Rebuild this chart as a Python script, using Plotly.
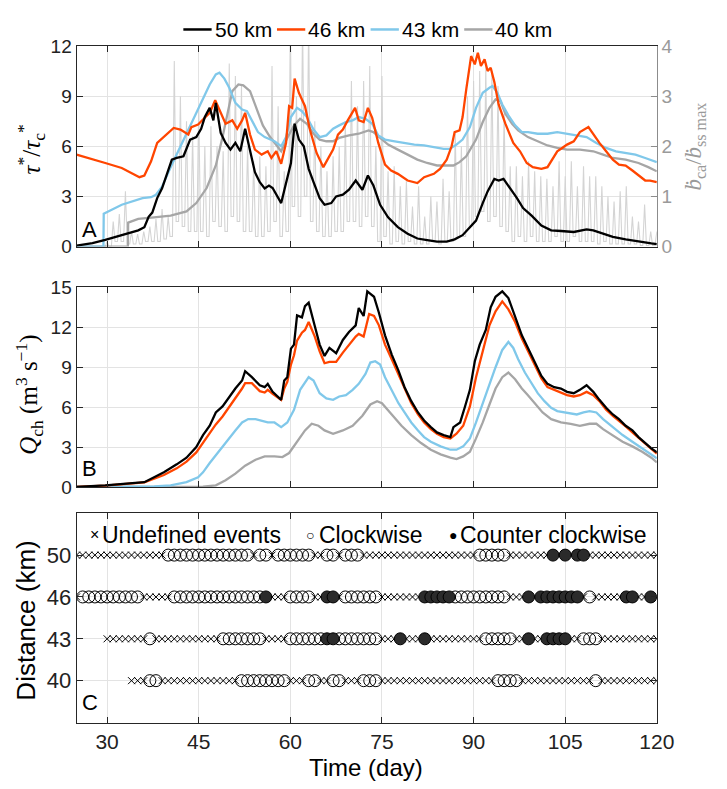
import plotly.graph_objects as go

W, H = 727, 789
SANS = "Liberation Sans, Arial, sans-serif"
SERIF = "Liberation Serif, DejaVu Serif, serif"

# ---------------- data ----------------
x_ticks = [30, 45, 60, 75, 90, 105, 120]
series_labels = ["50 km", "46 km", "43 km", "40 km"]
series_colors = ["#000000", "#ff4500", "#80c8ea", "#a6a6a6"]

# Panel A: tau*/tau_c* (day, value)
tau_50 = [(25,0.05),(27.6,0.2),(29.7,0.4),(32.4,0.68),(35.1,0.97),(36.1,1.16),(36.8,1.78),(37.4,2.03),(38.2,2.9),(39.0,3.48),(39.8,4.35),(40.6,5.2),(41.4,5.3),(42.5,5.4),(43.6,6.4),(44.6,6.55),(45.4,7.05),(46.0,7.75),(46.8,8.3),(47.4,7.55),(47.8,8.6),(48.6,6.8),(49.4,6.2),(50.2,5.8),(51.0,6.2),(51.8,5.7),(52.6,7.05),(53.4,5.8),(54.2,4.45),(55.0,3.85),(55.8,3.48),(56.5,3.65),(57.1,3.5),(58.5,2.6),(59.3,3.85),(60.1,5.0),(60.7,7.35),(61.4,6.4),(62.2,6.0),(63.0,4.65),(63.8,3.85),(64.8,2.9),(65.6,2.5),(66.7,2.6),(67.5,3.0),(68.6,3.1),(69.6,3.4),(70.7,3.95),(71.8,3.4),(72.7,4.25),(73.6,3.65),(74.7,2.5),(76.0,1.75),(77.6,1.16),(79.2,0.77),(80.8,0.48),(82.4,0.39),(84.0,0.29),(85.6,0.29),(86.9,0.43),(88.2,0.68),(89.4,1.16),(90.4,1.55),(91.5,2.6),(92.3,3.3),(93.4,4.05),(94.1,3.95),(94.9,4.05),(96.0,3.48),(97.1,2.9),(98.1,2.3),(99.5,1.85),(101.1,1.26),(102.7,0.97),(104.3,0.93),(106.4,0.87),(108.5,1.03),(109.6,0.97),(111.2,0.77),(112.8,0.58),(114.9,0.43),(117.0,0.29),(119.1,0.19),(120,0.15)]
tau_46 = [(25,5.5),(27.6,5.2),(29.7,5.0),(32.4,4.7),(35.3,4.15),(36.1,4.25),(37.2,5.1),(38.2,6.2),(39.8,6.7),(40.9,7.1),(42.0,7.0),(43.3,6.7),(43.8,7.15),(44.9,7.3),(45.7,7.6),(46.8,8.0),(47.7,8.75),(48.4,8.2),(49.4,7.35),(50.5,7.55),(51.3,7.05),(52.1,7.55),(52.6,8.0),(53.4,6.7),(54.2,5.8),(55.3,5.5),(56.3,5.7),(56.9,5.3),(57.7,5.7),(58.5,4.95),(59.3,6.2),(59.8,8.4),(60.3,8.3),(60.7,10.05),(61.4,9.2),(61.9,8.8),(62.4,8.4),(63.2,7.0),(64.3,5.6),(65.4,4.75),(66.2,5.3),(67.0,5.8),(67.8,6.7),(68.6,7.0),(69.4,7.55),(70.6,8.3),(71.2,7.55),(72.0,7.45),(72.7,8.3),(73.4,7.7),(74.4,6.2),(75.5,4.9),(76.5,4.55),(77.6,4.35),(79.2,3.95),(80.8,3.8),(81.9,4.15),(83.5,4.35),(84.5,4.65),(85.6,5.2),(86.4,6.0),(86.9,6.85),(87.7,6.95),(88.2,7.75),(88.8,9.4),(89.6,11.4),(90.2,10.9),(90.7,11.6),(91.2,10.8),(91.8,11.2),(92.3,10.5),(92.8,10.7),(93.4,9.85),(94.1,8.5),(95.2,7.35),(96.5,6.2),(97.6,5.7),(98.7,5.0),(99.7,4.75),(101.1,4.65),(102.1,4.75),(102.9,5.2),(103.7,5.7),(104.5,5.9),(105.3,6.1),(106.4,6.3),(107.4,6.85),(108.8,7.15),(109.6,6.7),(110.6,6.2),(111.7,5.7),(112.8,5.2),(113.8,4.9),(114.9,4.85),(116.0,4.55),(117.0,4.25),(118.1,3.95),(118.9,3.95),(120,3.85)]
tau_43 = [(25,0),(29.4,0),(29.45,1.97),(32.4,2.5),(35.8,2.9),(37.2,2.95),(38.0,3.1),(39.0,3.58),(40.4,4.75),(42.0,6.0),(43.6,7.25),(45.2,8.4),(46.8,9.7),(47.8,10.3),(48.4,10.4),(49.2,10.05),(50.0,9.5),(51.0,8.6),(52.1,8.2),(52.9,8.1),(53.7,7.55),(54.7,6.85),(55.8,6.55),(56.9,6.4),(57.4,6.3),(58.5,6.0),(59.3,6.55),(60.1,7.75),(61.1,8.3),(61.9,8.1),(62.7,7.75),(63.8,7.0),(64.8,6.55),(65.9,6.65),(67.0,7.05),(68.0,7.25),(69.1,7.45),(70.2,7.55),(71.2,7.75),(72.3,7.65),(73.4,7.35),(74.4,6.65),(75.5,6.4),(77.1,6.3),(78.7,6.2),(80.3,6.1),(81.9,6.05),(83.5,5.95),(85.1,5.85),(86.1,5.85),(87.2,6.1),(88.2,6.4),(89.4,7.15),(90.4,8.3),(91.5,9.2),(92.6,9.5),(93.1,9.6),(93.9,9.2),(94.7,8.5),(95.7,7.85),(96.8,7.25),(97.9,6.85),(98.9,6.85),(100.5,6.75),(102.1,6.75),(103.7,6.85),(105.3,6.75),(106.9,6.65),(108.5,6.55),(110.1,6.2),(111.7,5.9),(113.3,5.7),(114.9,5.6),(116.5,5.5),(118.1,5.3),(120,5.05)]
tau_40 = [(25,0),(33.4,0),(33.45,1.43),(35.1,1.65),(37.7,1.75),(40.4,1.85),(43.0,2.1),(44.6,2.6),(46.3,3.5),(47.8,4.85),(48.9,6.55),(49.7,7.9),(50.5,9.3),(51.5,9.7),(52.3,9.65),(53.4,9.3),(54.4,8.3),(55.5,7.25),(56.6,6.6),(57.4,6.2),(58.5,5.7),(59.5,6.5),(60.6,7.25),(61.6,7.65),(62.7,7.35),(63.8,6.75),(64.8,6.4),(65.9,6.3),(67.0,6.3),(68.0,6.5),(69.6,6.65),(71.2,6.75),(72.8,6.95),(73.6,6.85),(74.7,6.5),(76.0,6.1),(77.6,5.8),(79.2,5.5),(80.8,5.2),(82.4,5.0),(84.0,4.85),(85.6,4.85),(86.7,4.85),(87.7,5.05),(88.8,5.4),(90.4,6.4),(91.5,7.45),(92.6,8.3),(93.6,8.8),(94.4,8.7),(95.2,7.95),(96.3,7.35),(97.3,6.95),(98.9,6.55),(100.5,6.3),(102.1,6.05),(103.7,5.9),(105.3,5.8),(107.4,5.8),(109.6,5.7),(111.2,5.5),(112.8,5.3),(114.9,5.2),(117.0,5.0),(118.6,4.75),(120,4.5)]

# Panel A right axis: b_ca / b_ss max, daily peaks (days 25..120) and troughs between
bdot_first_day = 25
bdot_peaks = [0,0,0,0,0, 0.1,0.5,0.65,1.1,0.3, 0.25,0.3,0.4,0.55,0.75,
              0.6,3.7,3.0,2.5,2.2, 2.8,2.0,2.4,2.0,1.9, 3.65,3.4,3.2,2.0,1.7,
              1.8,1.6,3.6,2.8,1.5, 4.5,3.0,4.5,4.5,2.5, 2.0,1.5,1.8,2.0,2.5,
              3.3,2.8,3.3,3.6,2.0, 3.4,1.5,1.6,1.2,1.3, 0.8,1.2,0.6,1.0,0.9,
              1.35,1.1,2.3,2.0,3.0, 3.3,3.5,3.6,3.5,3.2, 2.65,1.6,1.6,1.4,1.7,
              1.5,1.4,1.35,1.2,1.7, 1.4,1.7,1.2,1.6,1.4, 1.4,1.2,1.0,0.9,1.1,
              1.2,0.6,0.5,0.84,0.3, 0.3]
bdot_troughs = [0,0,0,0,0, 0,0.1,0.1,0.05,0.05, 0.05,0.1,0.1,0.1,0.15,
                0.2,0.5,0.4,0.3,0.3, 0.3,0.2,0.5,0.4,0.3, 0.6,0.5,0.3,0.3,0.2,
                0.2,0.3,0.5,0.2,0.3, 0.8,0.6,1.0,0.5,0.3, 0.2,0.2,0.3,0.3,0.5,
                0.5,0.4,0.6,0.4,0.1, 0.2,0.05,0.1,0.05,0.1, 0.05,0.05,0.05,0.1,0.05,
                0.1,0.1,0.2,0.2,0.4, 0.6,0.7,0.5,0.6,0.4, 0.3,0.1,0.2,0.1,0.2,
                0.1,0.1,0.1,0.2,0.1, 0.1,0.2,0.1,0.1,0.1, 0.05,0.1,0.05,0.05,0.05,
                0.05,0.05,0.02,0.02,0.02]

# Panel B: Q_ch (day, value)
q_50 = [(25,0),(29.7,0.12),(36.1,0.36),(37.2,0.6),(39.3,1.1),(41.4,1.7),(43.0,2.2),(44.6,3.0),(45.7,3.9),(46.8,4.6),(47.8,5.6),(48.9,6.05),(50.0,6.8),(51.0,7.4),(52.1,8.0),(52.6,8.7),(53.7,8.25),(55.0,7.65),(55.8,7.5),(56.3,7.75),(57.1,7.15),(58.5,6.55),(59.0,8.0),(59.5,8.25),(60.1,10.4),(60.6,10.7),(61.1,12.9),(61.9,12.75),(62.4,13.6),(63.0,13.85),(64.0,12.1),(64.8,10.7),(65.6,9.85),(66.4,10.45),(67.5,10.05),(68.6,11.05),(69.6,11.65),(70.7,12.15),(71.2,13.45),(72.0,12.85),(72.6,14.7),(73.7,14.3),(74.5,13.1),(75.5,11.4),(76.6,9.95),(77.7,8.75),(78.7,7.5),(79.8,6.45),(80.9,5.6),(81.9,5.0),(83.0,4.5),(84.0,4.1),(85.1,3.9),(86.2,3.75),(86.7,4.5),(87.8,4.85),(88.6,6.05),(89.4,7.3),(90.2,9.45),(91.0,10.7),(92.0,11.8),(92.8,13.5),(93.6,14.3),(94.7,14.7),(95.7,14.2),(96.8,12.85),(97.9,11.4),(98.9,10.45),(100.0,9.45),(101.1,8.35),(102.1,7.75),(103.2,7.5),(104.3,7.4),(105.3,7.15),(106.4,7.05),(107.4,7.3),(108.5,7.65),(109.6,7.15),(110.6,6.55),(111.7,5.95),(112.8,5.45),(113.8,5.1),(114.9,4.6),(116.0,4.25),(117.0,3.75),(118.1,3.3),(119.1,2.9),(120,2.6)]
q_46 = [(25,0),(29.7,0.1),(36.1,0.35),(39.3,0.9),(41.4,1.4),(43.0,1.9),(44.6,2.6),(45.7,3.3),(46.8,4.0),(47.8,4.7),(48.9,5.3),(50.0,6.0),(51.0,6.7),(52.1,7.4),(52.6,7.8),(53.7,7.8),(55.0,7.2),(55.8,7.1),(56.3,7.3),(57.1,7.0),(58.5,6.55),(59.0,7.4),(59.5,7.9),(60.1,9.2),(60.6,9.9),(61.1,11.0),(61.9,11.6),(62.4,11.8),(63.0,12.4),(64.0,11.3),(64.8,10.2),(65.6,9.3),(66.4,9.4),(67.5,9.4),(68.6,10.1),(69.6,10.7),(70.7,11.3),(71.2,11.5),(72.0,11.3),(72.9,13.0),(73.7,12.85),(74.5,12.15),(75.5,10.7),(76.6,9.6),(77.7,8.5),(78.7,7.4),(79.8,6.3),(80.9,5.45),(81.9,4.85),(83.0,4.35),(84.0,4.0),(85.1,3.75),(86.2,3.65),(87.2,4.0),(88.3,4.6),(89.4,6.05),(90.4,8.25),(91.5,10.2),(92.6,12.15),(93.6,13.2),(94.7,13.95),(95.7,13.35),(96.8,12.4),(97.9,11.15),(98.9,10.2),(100.0,9.2),(101.1,8.15),(102.1,7.5),(103.2,7.3),(104.3,7.05),(105.3,6.9),(106.4,6.8),(107.4,6.9),(108.5,7.15),(109.6,6.9),(110.6,6.45),(111.7,5.8),(112.8,5.35),(113.8,5.0),(114.9,4.55),(116.0,4.1),(117.0,3.7),(118.1,3.25),(119.1,2.85),(120,2.5)]
q_43 = [(25,0),(36,0),(37.7,0.05),(40.4,0.12),(43.0,0.36),(44.9,0.73),(45.7,1.1),(46.8,1.8),(47.8,2.4),(48.9,3.0),(50.0,3.65),(51.0,4.25),(52.1,4.85),(53.1,5.1),(54.3,5.1),(55.3,5.0),(56.3,4.85),(57.4,4.85),(58.5,4.5),(59.5,4.85),(60.6,5.8),(61.6,7.3),(63.0,8.25),(63.8,8.0),(64.8,7.05),(65.9,6.65),(67.0,6.55),(68.0,6.8),(69.1,6.9),(70.2,7.3),(71.2,7.75),(72.3,8.5),(73.1,9.35),(73.9,9.45),(74.7,9.2),(75.5,8.25),(76.6,7.3),(77.7,6.3),(78.7,5.6),(79.8,4.85),(80.9,4.25),(81.9,3.75),(83.0,3.4),(84.6,3.05),(86.2,2.8),(87.2,2.8),(88.3,3.05),(89.4,3.65),(90.4,4.85),(91.5,6.3),(92.6,7.75),(93.6,9.0),(94.7,10.3),(95.7,10.9),(96.5,10.45),(97.3,9.6),(98.4,8.6),(99.5,7.75),(100.5,7.05),(101.6,6.45),(102.7,5.95),(103.7,5.7),(105.3,5.6),(106.9,5.45),(108.0,5.6),(109.0,5.7),(110.1,5.6),(111.2,5.1),(112.8,4.5),(114.4,3.9),(116.0,3.4),(117.6,2.9),(119.1,2.45),(120,2.15)]
q_40 = [(25,0),(42,0),(45.7,0.02),(47.8,0.12),(49.4,0.5),(51.0,1.0),(52.6,1.6),(54.3,2.05),(55.8,2.3),(57.4,2.3),(58.7,2.25),(59.8,2.55),(61.1,3.4),(62.4,4.25),(63.5,4.75),(64.6,4.6),(65.6,4.25),(67.0,4.0),(68.6,4.25),(70.2,4.6),(71.8,5.35),(72.3,5.7),(73.1,6.2),(74.2,6.45),(75.0,6.3),(76.6,5.45),(78.2,4.6),(79.8,3.9),(81.4,3.3),(83.0,2.8),(84.6,2.45),(86.2,2.2),(87.2,2.1),(88.3,2.3),(89.4,2.65),(90.4,3.65),(91.5,4.85),(92.6,6.2),(93.6,7.4),(94.7,8.25),(95.7,8.6),(96.8,8.1),(97.9,7.4),(98.9,6.9),(100.0,6.3),(101.3,5.6),(102.7,5.1),(104.3,4.85),(105.9,4.75),(107.4,4.6),(109.0,4.75),(110.1,4.75),(111.2,4.35),(112.8,3.9),(114.4,3.4),(116.0,3.05),(117.6,2.65),(119.1,2.2),(120,1.85)]

# Panel C: daily hysteresis events, runs (first day, last day, type)
# type: 'u' undefined, 'cw' clockwise, 'ccw' counter clockwise
distance_labels = ["40", "43", "46", "50"]
events_50 = [(25,39,'u'),(40,53,'cw'),(54,54,'u'),(55,56,'cw'),(57,57,'u'),(58,63,'cw'),(64,65,'u'),(66,67,'cw'),(68,68,'u'),(69,71,'cw'),(72,90,'u'),(91,95,'cw'),(96,102,'u'),(103,103,'ccw'),(104,104,'u'),(105,105,'ccw'),(106,106,'u'),(107,108,'ccw'),(109,120,'u')]
events_46 = [(25,25,'u'),(26,35,'cw'),(36,40,'u'),(41,55,'cw'),(56,56,'ccw'),(57,59,'u'),(60,63,'cw'),(64,65,'u'),(66,67,'ccw'),(68,68,'u'),(69,74,'cw'),(75,81,'u'),(82,86,'ccw'),(87,95,'cw'),(96,98,'u'),(99,99,'ccw'),(100,100,'u'),(101,107,'ccw'),(108,108,'u'),(109,109,'cw'),(110,114,'u'),(115,116,'ccw'),(117,118,'u'),(119,119,'ccw'),(120,120,'u')]
events_43 = [(30,36,'u'),(37,37,'cw'),(38,48,'u'),(49,55,'cw'),(56,59,'u'),(60,65,'cw'),(66,67,'ccw'),(68,74,'cw'),(75,77,'u'),(78,78,'ccw'),(79,81,'u'),(82,82,'ccw'),(83,91,'u'),(92,96,'cw'),(97,98,'u'),(99,99,'ccw'),(100,101,'u'),(102,105,'ccw'),(106,107,'u'),(108,110,'cw'),(111,120,'u')]
events_40 = [(34,36,'u'),(37,38,'cw'),(39,51,'u'),(52,59,'cw'),(60,62,'u'),(63,64,'cw'),(65,66,'u'),(67,68,'cw'),(69,71,'u'),(72,74,'cw'),(75,93,'u'),(94,97,'cw'),(98,109,'u'),(110,110,'cw'),(111,120,'u')]
event_names = {"u": "Undefined events", "cw": "Clockwise", "ccw": "Counter clockwise"}

# ---------------- helpers ----------------
def px(x):
    return x / W

def py(y):
    return 1 - y / H

def xs(pairs):
    return [p[0] for p in pairs]

def ys(pairs):
    return [p[1] for p in pairs]

XD = [px(78.5), px(673.5)]
YA = [py(243), py(37)]
YB = [py(490), py(285)]
YC = [py(732), py(517)]

AX = "#262626"
GRID = "#e3e3e3"

fig = go.Figure()

# spikes (right axis of panel A, base axis y): sharp daily peak, flat trough between
bx, bv = [], []
for i, pk in enumerate(bdot_peaks):
    d = bdot_first_day + i
    bx.append(d); bv.append(pk)
    if i < len(bdot_troughs):
        bx.append(d + 0.3); bv.append(bdot_troughs[i])
        bx.append(d + 0.7); bv.append(bdot_troughs[i])
fig.add_trace(go.Scatter(x=bx, y=bv, mode="lines", line=dict(color="#d4d4d4", width=1.1),
                         xaxis="x", yaxis="y", hoverinfo="skip"))

tau_series = [tau_50, tau_46, tau_43, tau_40]
q_series = [q_50, q_46, q_43, q_40]
for k in [3, 2, 1, 0]:
    fig.add_trace(go.Scatter(x=xs(tau_series[k]), y=ys(tau_series[k]), mode="lines",
                             line=dict(color=series_colors[k], width=2.3),
                             xaxis="x", yaxis="y4", name=series_labels[k]))
for k in [3, 2, 1, 0]:
    fig.add_trace(go.Scatter(x=xs(q_series[k]), y=ys(q_series[k]), mode="lines",
                             line=dict(color=series_colors[k], width=2.3),
                             xaxis="x2", yaxis="y2", name=series_labels[k]))

# panel C events
rows = [(events_40, 1), (events_43, 2), (events_46, 3), (events_50, 4)]
ev = {"u": ([], []), "cw": ([], []), "ccw": ([], [])}
for segs, ypos in rows:
    for a, b, t in segs:
        for d in range(a, b + 1):
            ev[t][0].append(d)
            ev[t][1].append(ypos)

fig.add_trace(go.Scatter(x=ev["u"][0], y=ev["u"][1], mode="markers", xaxis="x3", yaxis="y3",
                         name=event_names["u"],
                         marker=dict(symbol="x-thin", size=7, line=dict(color="#000", width=1))))
fig.add_trace(go.Scatter(x=ev["cw"][0], y=ev["cw"][1], mode="markers", xaxis="x3", yaxis="y3",
                         name=event_names["cw"],
                         marker=dict(symbol="circle-open", size=12, color="#000", line=dict(width=1))))
fig.add_trace(go.Scatter(x=ev["ccw"][0], y=ev["ccw"][1], mode="markers", xaxis="x3", yaxis="y3",
                         name=event_names["ccw"],
                         marker=dict(symbol="circle", size=12, color="#2b2b2b", line=dict(color="#000", width=1))))

common_x = dict(range=[25, 120], tickvals=x_ticks, ticks="inside", ticklen=6, tickcolor=AX,
                showline=True, linecolor=AX, linewidth=1, mirror="ticks", showgrid=True,
                gridcolor=GRID, gridwidth=1, zeroline=False, domain=XD,
                tickfont=dict(family=SANS, size=21, color="#222"))

fig.update_layout(
    width=W, height=H, margin=dict(l=0, r=0, t=0, b=0),
    paper_bgcolor="white", plot_bgcolor="white", showlegend=False,
    xaxis=dict(common_x, anchor="y", showticklabels=False),
    xaxis2=dict(common_x, anchor="y2", showticklabels=False),
    xaxis3=dict(common_x, anchor="y3", showticklabels=True),
    yaxis=dict(domain=YA, anchor="x", side="right", range=[0, 4], tickvals=[0, 1, 2, 3, 4],
               ticks="inside", ticklen=6, tickcolor="#8c8c8c", showline=True, linecolor="#8c8c8c",
               showgrid=False, zeroline=False,
               tickfont=dict(family=SANS, size=19, color="#9a9a9a")),
    yaxis4=dict(overlaying="y", anchor="x", side="left", range=[0, 12], tickvals=[0, 3, 6, 9, 12],
                ticks="inside", ticklen=6, tickcolor=AX, showline=True, linecolor=AX,
                showgrid=True, gridcolor=GRID, zeroline=False,
                tickfont=dict(family=SANS, size=19, color="#222")),
    yaxis2=dict(domain=YB, anchor="x2", range=[0, 15], tickvals=[0, 3, 6, 9, 12, 15],
                ticks="inside", ticklen=6, tickcolor=AX, showline=True, linecolor=AX, mirror="ticks",
                showgrid=True, gridcolor=GRID, zeroline=False,
                tickfont=dict(family=SANS, size=19, color="#222")),
    yaxis3=dict(domain=YC, anchor="x3", range=[0, 5], tickvals=[1, 2, 3, 4], ticktext=distance_labels,
                ticks="inside", ticklen=6, tickcolor=AX, showline=True, linecolor=AX, mirror="ticks",
                showgrid=True, gridcolor=GRID, zeroline=False,
                tickfont=dict(family=SANS, size=22, color="#222")),
)

anns = []
def ann(x, y, text, size, color="#000", angle=0, xanchor="center", yanchor="middle", family=SANS):
    anns.append(dict(x=px(x), y=py(y), xref="paper", yref="paper", text=text, showarrow=False,
                     font=dict(size=size, color=color, family=family), textangle=angle,
                     xanchor=xanchor, yanchor=yanchor))

# top legend
legend_line_x = [(188, 217), (284, 313), (380, 409), (476, 505)]
shapes = []
for k in range(4):
    x0, x1 = legend_line_x[k]
    shapes.append(dict(type="line", xref="paper", yref="paper", x0=px(x0), x1=px(x1),
                       y0=py(20), y1=py(20), line=dict(color=series_colors[k], width=2.5)))
    ann(x1 + 1, 20, series_labels[k], 21, xanchor="left")

# panel labels
ann(92, 225, "A", 22)
ann(92, 471, "B", 22)
ann(92, 711, "C", 22)

# axis titles
ann(32, 143, "<i>τ</i><sup>*</sup>/<i>τ</i><sub>c</sub><sup>*</sup>", 25, angle=-90, family=SERIF)
ann(713, 140, "<i>ḃ</i><sub>ca</sub>/<i>ḃ</i><sub>ss max</sub>", 23, color="#9a9a9a", angle=-90, family=SERIF)
ann(30, 395, "<i>Q</i><sub>ch</sub> (m<sup>3</sup> s<sup>−1</sup>)", 25, angle=-90, family=SERIF)
ann(27, 627, "Distance (km)", 26, angle=-90)
ann(375, 778, "Time (day)", 24)

# panel C legend
ann(97, 539, "×", 16)
ann(103, 539, event_names["u"], 23, xanchor="left")
ann(318, 539, "○", 14)
ann(325, 539, event_names["cw"], 23, xanchor="left")
ann(464, 539, "●", 14)
ann(470, 539, event_names["ccw"], 23, xanchor="left")

fig.update_layout(annotations=anns, shapes=shapes)
fig.write_html("out.html")
